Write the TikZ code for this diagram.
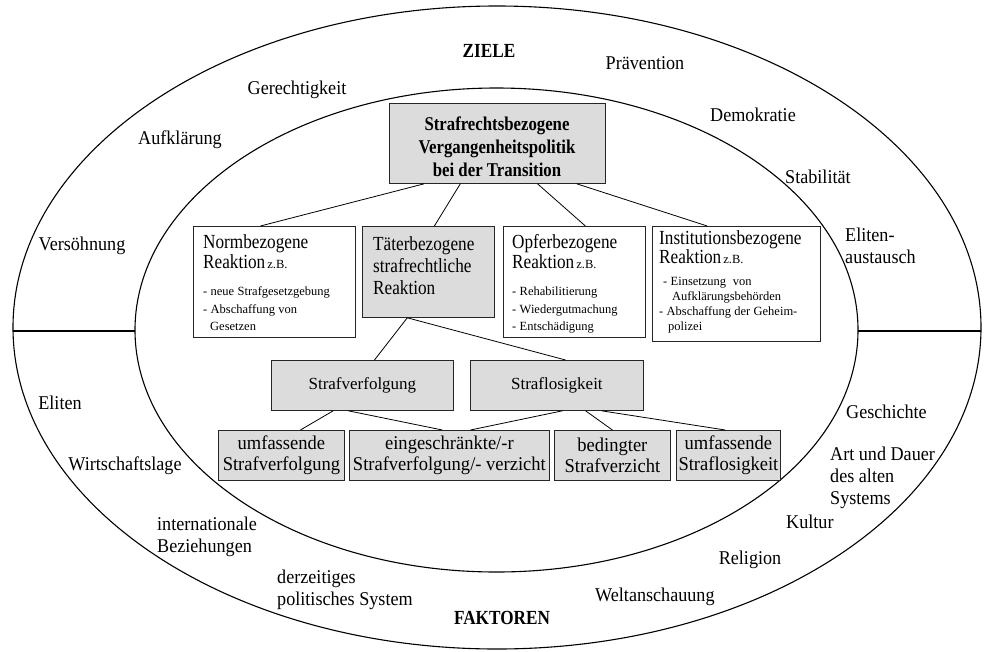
\documentclass[tikz,border=0pt]{standalone}
\usepackage{fontspec}
\setmainfont{Liberation Serif}
\newfontfamily\condfont{Liberation Serif}[FakeStretch=0.86]
\newfontfamily\outerfont{Liberation Serif}[FakeStretch=0.93]
\newfontfamily\lowfont{Liberation Serif}[FakeStretch=0.95]
\usetikzlibrary{calc}
\definecolor{boxgray}{HTML}{DCDCDC}
\begin{document}
\begin{tikzpicture}[x=1pt,y=-1pt,
  ring/.style={line width=1.1pt},
  conn/.style={line width=0.8pt},
  frame/.style={draw=black!85, line width=0.8pt, inner sep=0pt, anchor=north west},
  gbox/.style={frame, fill=boxgray},
  wbox/.style={frame, fill=white},
  outer/.style={font=\outerfont\fontsize{19.5}{22}\selectfont, inner sep=0pt, align=left},
  headlbl/.style={font=\condfont\bfseries\fontsize{20}{22}\selectfont, inner sep=0pt},
  boxtext/.style={inner sep=0pt, anchor=north west, align=left, text width=#1},
  midtxt/.style={font=\fontsize{17}{20}\selectfont, align=center},
  lowtxt/.style={font=\lowfont\fontsize{19.5}{21}\selectfont, align=center},
]
\useasboundingbox (0,0) rectangle (987,651);

% rings
\draw[ring] (497,327.5) ellipse [x radius=484pt, y radius=321.5pt];
\draw[ring] (496.5,330) ellipse [x radius=361.5pt, y radius=242pt];
\draw[ring] (13,331) -- (135,331);
\draw[ring] (858,331) -- (981,331);

% main box
\node[gbox, minimum width=216pt, minimum height=80pt] (main) at (389,103) {};
\node[font=\condfont\bfseries\fontsize{19.5}{23}\selectfont, align=center, inner sep=0pt, anchor=north] (maintext) at (497,117) {Strafrechtsbezogene\\Vergangenheitspolitik\\bei der Transition};

% second row
\node[wbox, minimum width=162pt, minimum height=111pt] (norm) at (193,226) {};
\node[boxtext=150pt] (normtext) at (203,234.5) {{\condfont\fontsize{20}{20}\selectfont Normbezogene\\Reaktion{\rmfamily\fontsize{12.5}{14}\selectfont\,z.B.}\par}\vspace{9.5pt}{\fontsize{12.5}{17.5}\selectfont - neue Strafgesetzgebung\\- Abschaffung von\\\hspace*{7pt}Gesetzen\par}};

\node[gbox, minimum width=132pt, minimum height=91pt] (taeter) at (362,226) {};
\node[boxtext=120pt] (taetertext) at (373,236.5) {\condfont\fontsize{20}{22}\selectfont Täterbezogene\\strafrechtliche\\Reaktion\par};

\node[wbox, minimum width=142pt, minimum height=111pt] (opfer) at (503,226) {};
\node[boxtext=135pt] (opfertext) at (512,234.5) {{\condfont\fontsize{20}{20}\selectfont Opferbezogene\\Reaktion{\rmfamily\fontsize{12.5}{14}\selectfont\,z.B.}\par}\vspace{9.5pt}{\fontsize{12.5}{17.5}\selectfont - Rehabilitierung\\- Wiedergutmachung\\- Entschädigung\par}};

\node[wbox, minimum width=168pt, minimum height=115pt] (inst) at (652,226) {};
\node[boxtext=162pt] (insttext) at (659,230.5) {{\condfont\fontsize{20}{19}\selectfont Institutionsbezogene\\Reaktion{\rmfamily\fontsize{12.5}{14}\selectfont\,z.B.}\par}\vspace{7pt}{\fontsize{12.5}{15}\selectfont \hspace*{4pt}- Einsetzung\ \ von\\\hspace*{13pt}Aufklärungsbehörden\\- Abschaffung der Geheim-\\\hspace*{9pt}polizei\par}};

% third row
\node[gbox, midtxt, minimum width=182pt, minimum height=50pt] (sverf) at (271,360) {Strafverfolgung};
\node[gbox, midtxt, minimum width=173pt, minimum height=50pt] (slos) at (470,360) {Straflosigkeit};

% bottom row
\node[gbox, lowtxt, minimum width=126pt, minimum height=50pt] (umsv) at (218,430) {umfassende\\Strafverfolgung};
\node[gbox, lowtxt, minimum width=200pt, minimum height=50pt] (einge) at (349,430) {eingeschränkte/-r\\Strafverfolgung/- verzicht};
\node[gbox, lowtxt, minimum width=116pt, minimum height=50pt] (bedin) at (554,430) {bedingter\\Strafverzicht};
\node[gbox, lowtxt, minimum width=104pt, minimum height=50pt] (umsl) at (676,430) {umfassende\\Straflosigkeit};

% connectors
\draw[conn] ($(main.south west)!0.162!(main.south east)$) -- ($(norm.north west)!0.414!(norm.north east)$);
\draw[conn] ($(main.south west)!0.329!(main.south east)$) -- ($(taeter.north west)!0.545!(taeter.north east)$);
\draw[conn] ($(main.south west)!0.685!(main.south east)$) -- ($(opfer.north west)!0.577!(opfer.north east)$);
\draw[conn] ($(main.south west)!0.866!(main.south east)$) -- ($(inst.north west)!0.327!(inst.north east)$);
\draw[conn] ($(taeter.south west)!0.341!(taeter.south east)$) -- ($(sverf.north west)!0.566!(sverf.north east)$);
\draw[conn] ($(taeter.south west)!0.341!(taeter.south east)$) -- ($(slos.north west)!0.55!(slos.north east)$);
\draw[conn] ($(sverf.south west)!0.34!(sverf.south east)$) -- ($(umsv.north west)!0.65!(umsv.north east)$);
\draw[conn] ($(sverf.south west)!0.423!(sverf.south east)$) -- ($(einge.north west)!0.465!(einge.north east)$);
\draw[conn] ($(slos.south west)!0.532!(slos.south east)$) -- ($(einge.north west)!0.605!(einge.north east)$);
\draw[conn] ($(slos.south west)!0.665!(slos.south east)$) -- ($(bedin.north west)!0.5!(bedin.north east)$);
\draw[conn] ($(slos.south west)!0.757!(slos.south east)$) -- ($(umsl.north west)!0.47!(umsl.north east)$);

% outer labels: goals
\node[headlbl] (ziele) at (489,51) {ZIELE};
\node[outer] (praev) at (645,63) {Prävention};
\node[outer] (gerecht) at (297,90) {Gerechtigkeit};
\node[outer, anchor=west] (demo) at (710,115) {Demokratie};
\node[outer] (aufkl) at (180,140) {Aufklärung};
\node[outer, anchor=west] (stab) at (785,177) {Stabilität};
\node[outer, anchor=west] (elitaus) at (845,246) {Eliten-\\austausch};
\node[outer] (versoehn) at (82,246) {Versöhnung};

% outer labels: factors
\node[outer] (eliten) at (60,403) {Eliten};
\node[outer] (wirtsch) at (125,466) {Wirtschaftslage};
\node[outer, anchor=west] (intbez) at (157,537) {internationale\\Beziehungen};
\node[outer, anchor=west] (polsys) at (277,590) {derzeitiges\\politisches System};
\node[headlbl] (faktoren) at (502,618) {FAKTOREN};
\node[outer, anchor=west] (weltan) at (595,597) {Weltanschauung};
\node[outer] (relig) at (750,560) {Religion};
\node[outer, anchor=west] (kultur) at (786,522) {Kultur};
\node[outer, anchor=west] (artdauer) at (830,478) {Art und Dauer\\des alten\\Systems};
\node[outer, anchor=west] (gesch) at (846,412) {Geschichte};
\end{tikzpicture}
\end{document}
